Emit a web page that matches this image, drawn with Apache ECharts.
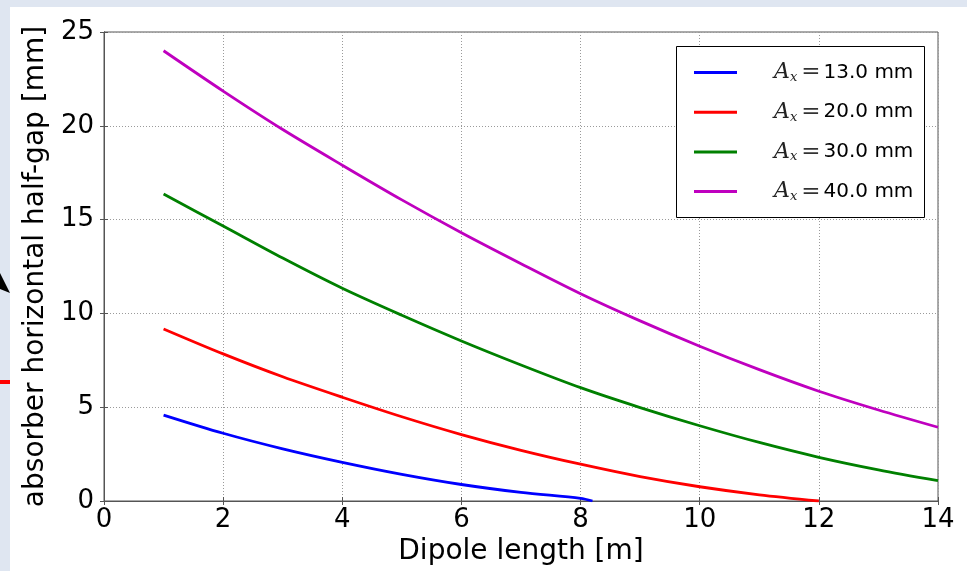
<!DOCTYPE html>
<html>
<head>
<meta charset="utf-8">
<script src="https://cdn.jsdelivr.net/npm/echarts@6/dist/echarts.min.js"></script>
<style>
  html, body { margin: 0; padding: 0; background: #dfe6f1; }
  #chart { width: 967px; height: 571px; }
</style>
</head>
<body>
<div id="chart"></div>
<script>
// Beam amplitude of each curve (mm)
const amplitudes = ['13.0', '20.0', '30.0', '40.0'];
const colors = ['#0000ff', '#ff0000', '#008000', '#bf00bf'];

// Dipole length samples (m)
const lengthA13 = [1, 2, 3, 4, 5, 6, 7, 8, 8.2];
const lengthA20 = [1, 2, 3, 4, 5, 6, 7, 8, 9, 10, 11, 12];
const lengthA30 = [1, 2, 3, 4, 5, 6, 7, 8, 9, 10, 11, 12, 13, 14];
const lengthA40 = [1, 2, 3, 4, 5, 6, 7, 8, 9, 10, 11, 12, 13, 14];

// Absorber horizontal half-gap (mm)
const gapA13 = [4.58, 3.61, 2.78, 2.06, 1.42, 0.88, 0.46, 0.14, 0.0];
const gapA20 = [9.17, 7.84, 6.62, 5.53, 4.49, 3.54, 2.70, 1.96, 1.30, 0.76, 0.33, 0.0];
const gapA30 = [16.36, 14.66, 12.95, 11.34, 9.90, 8.53, 7.25, 6.04, 4.98, 4.01, 3.12, 2.33, 1.66, 1.08];
const gapA40 = [24.0, 21.85, 19.8, 17.9, 16.05, 14.3, 12.65, 11.05, 9.6, 8.25, 7.0, 5.85, 4.85, 3.93];

// Axis ticks
const xTicks = { min: 0, max: 14, interval: 2 };
const yTicks = { min: 0, max: 25, interval: 5 };

const lengths = [lengthA13, lengthA20, lengthA30, lengthA40];
const gaps = [gapA13, gapA20, gapA30, gapA40];
const names = amplitudes.map(a => 'A_x =' + a + ' mm');

const tickFont = { fontFamily: 'DejaVu Sans', fontSize: 26, color: '#000' };
const titleFont = { fontFamily: 'DejaVu Sans', fontSize: 28, color: '#000' };
const gridLine = { show: true, lineStyle: { color: '#9a9a9a', width: 1, type: [1, 2] } };
const frame = { show: true, lineStyle: { color: '#555', width: 1 } };
const ticks = { show: true, inside: true, length: 4, lineStyle: { color: '#555' } };

const chart = echarts.init(document.getElementById('chart'));
chart.setOption({
  backgroundColor: '#dfe6f1',
  animation: false,
  graphic: [
    { type: 'rect', z: -10, shape: { x: 10, y: 7, width: 957, height: 564 }, style: { fill: '#ffffff' } },
    { type: 'polygon', shape: { points: [[0, 273], [10, 293], [0, 289]] }, style: { fill: '#000' } },
    { type: 'rect', shape: { x: 0, y: 380, width: 10, height: 4 }, style: { fill: '#ff0000' } },
    { type: 'rect', z: 5, shape: { x: 676.5, y: 46.5, width: 248, height: 171 },
      style: { fill: '#ffffff', stroke: '#000', lineWidth: 1 } }
  ],
  grid: { left: 104, top: 32, right: 29, bottom: 70, show: true, borderColor: '#555', borderWidth: 1 },
  legend: {
    orient: 'vertical',
    left: 694, top: 61, padding: 0, itemGap: 16.7, z: 10,
    icon: 'rect', itemWidth: 43, itemHeight: 3,
    data: names,
    formatter: name => {
      const i = names.indexOf(name);
      return '{a|A}{s|x}{e|=}{n|' + amplitudes[i] + ' mm}';
    },
    textStyle: {
      rich: {
        a: { fontFamily: 'DejaVu Serif', fontStyle: 'italic', fontSize: 22, color: '#222', padding: [0, 0, 0, 32], lineHeight: 24 },
        s: { fontFamily: 'DejaVu Serif', fontStyle: 'italic', fontSize: 13, color: '#222', padding: [10, 0, 0, 0], lineHeight: 24 },
        e: { fontFamily: 'DejaVu Serif', fontSize: 23, color: '#333', padding: [0, 3, 0, 4], lineHeight: 24 },
        n: { fontFamily: 'DejaVu Sans', fontSize: 20, color: '#000', lineHeight: 24 }
      }
    }
  },
  xAxis: [{
    type: 'value', min: xTicks.min, max: xTicks.max, interval: xTicks.interval,
    name: 'Dipole length [m]', nameLocation: 'middle', nameGap: 37,
    nameTextStyle: titleFont,
    axisLine: frame, axisTick: ticks,
    axisLabel: Object.assign({ margin: 6 }, tickFont),
    splitLine: gridLine
  }, {
    type: 'value', position: 'top', min: xTicks.min, max: xTicks.max, interval: xTicks.interval,
    axisLine: frame, axisTick: ticks,
    axisLabel: { show: false }, splitLine: { show: false }
  }],
  yAxis: [{
    type: 'value', min: yTicks.min, max: yTicks.max, interval: yTicks.interval,
    name: 'absorber horizontal half-gap [mm]', nameLocation: 'middle', nameGap: 52,
    nameTextStyle: titleFont,
    axisLine: frame, axisTick: ticks,
    axisLabel: Object.assign({ margin: 10 }, tickFont),
    splitLine: gridLine
  }, {
    type: 'value', position: 'right', min: yTicks.min, max: yTicks.max, interval: yTicks.interval,
    axisLine: frame, axisTick: ticks,
    axisLabel: { show: false }, splitLine: { show: false }
  }],
  series: names.map((name, i) => ({
    name: name,
    type: 'line',
    smooth: 0.3,
    showSymbol: false,
    color: colors[i],
    lineStyle: { width: 2.8, color: colors[i] },
    data: lengths[i].map((x, k) => [x, gaps[i][k]])
  }))
});
</script>
</body>
</html>
